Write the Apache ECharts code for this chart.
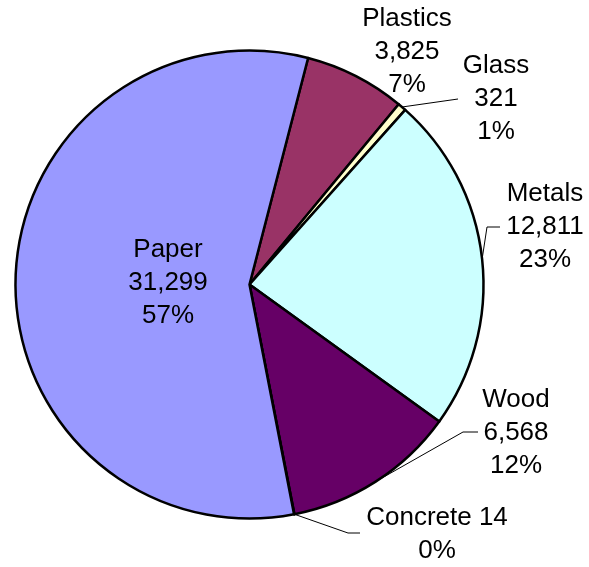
<!DOCTYPE html>
<html>
<head>
<meta charset="utf-8">
<script src="https://cdn.jsdelivr.net/npm/echarts@6/dist/echarts.min.js"></script>
<style>
html,body{margin:0;padding:0;background:#fff;}
#mycharts{width:589px;height:567px;}
</style>
</head>
<body>
<div id="mycharts"></div>
<script>
// data
const categories = ['Plastics', 'Glass', 'Metals', 'Wood', 'Concrete', 'Paper'];
const amounts = [3825, 321, 12811, 6568, 14, 31299];
const sliceColors = ['#993366', '#FFFFCC', '#CCFFFF', '#660066', '#FF8080', '#9999FF'];

const CX = 249.5, CY = 284.5, R = 234;
const FIRST = 14.5; // first slice edge, degrees clockwise from 12 o'clock
const total = amounts.reduce((a, b) => a + b, 0);

// label centres and leader line bends (style only)
const labelPos = [
  { x: 407, y: 52 },
  { x: 496, y: 99, bend: [[458, 99], [458, 99]] },
  { x: 545, y: 227, bend: [[487, 227], [500, 227]] },
  { x: 516, y: 433, bend: [[463, 432], [478, 432]] },
  { x: 437, y: 534, bend: [[348, 533], [360, 533]] },
  { x: 168, y: 283 }
];

function arcPoint(i) {
  let before = 0;
  for (let k = 0; k < i; k++) before += amounts[k];
  const a = (FIRST + (before + amounts[i] / 2) / total * 360) * Math.PI / 180;
  return [CX + R * Math.sin(a), CY - R * Math.cos(a)];
}

const fmt = n => n.toLocaleString('en-US');

const mCharts = echarts.init(document.getElementById('mycharts'));
const option = {
  animation: false,
  series: [{
    type: 'pie',
    center: [CX, CY],
    radius: R,
    startAngle: 90 - FIRST,
    clockwise: true,
    avoidLabelOverlap: false,
    data: categories.map((name, i) => ({
      name: name,
      value: amounts[i],
      itemStyle: { color: sliceColors[i] },
      label: { position: name === 'Paper' ? 'inside' : 'outside' },
      labelLine: { show: !!labelPos[i].bend }
    })),
    itemStyle: { borderColor: '#000', borderWidth: 2.5 },
    label: {
      color: '#000',
      fontFamily: 'Liberation Sans, Arial, sans-serif',
      fontSize: 26,
      lineHeight: 33,
      align: 'center',
      formatter: p => {
        const pct = Math.round(p.value / total * 100) + '%';
        if (p.name === 'Concrete') return p.name + ' ' + fmt(p.value) + '\n' + pct;
        return p.name + '\n' + fmt(p.value) + '\n' + pct;
      }
    },
    labelLine: {
      lineStyle: { color: '#000', width: 1 }
    },
    labelLayout: params => {
      const i = params.dataIndex;
      const lp = labelPos[i];
      const out = { x: lp.x, y: lp.y, align: 'center', verticalAlign: 'middle' };
      if (lp.bend) out.labelLinePoints = [arcPoint(i), lp.bend[0], lp.bend[1]];
      return out;
    }
  }]
};
mCharts.setOption(option);
</script>
</body>
</html>
